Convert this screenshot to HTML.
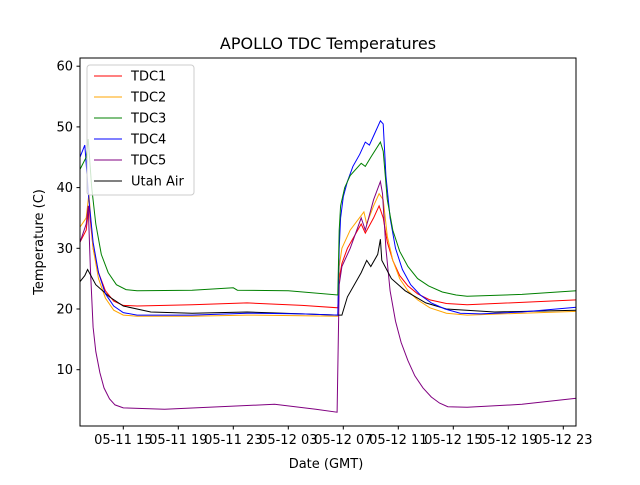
<!DOCTYPE html>
<html><head><meta charset="utf-8"><style>
body{margin:0;background:#fff;}
svg text{font-family:"DejaVu Sans","Liberation Sans",sans-serif;}
</style></head><body>
<svg id="chart" width="640" height="480" xmlns="http://www.w3.org/2000/svg">
<rect width="640" height="480" fill="#fff"/>
<text x="328" y="49" font-size="16" text-anchor="middle">APOLLO TDC Temperatures</text>
<text x="326" y="468" font-size="13" text-anchor="middle">Date (GMT)</text>
<text transform="translate(43,242) rotate(-90)" font-size="13" text-anchor="middle">Temperature (C)</text>
<g id="series"></g>
<g id="axes"></g>
<rect x="80" y="58" width="496" height="368" fill="none" stroke="#000" stroke-width="1"/>
<g id="legend"></g>
</svg>
<script>
// hours since 05-11 00:00
const xTickHours = [15,19,23,27,31,35,39,43,47];
const xTickLabels = ["05-11 15","05-11 19","05-11 23","05-12 03","05-12 07","05-12 11","05-12 15","05-12 19","05-12 23"];
const yTicks = [10,20,30,40,50,60];
const seriesNames = ["TDC1","TDC2","TDC3","TDC4","TDC5","Utah Air"];
const seriesColors = ["red","orange","green","blue","purple","black"];
const tdc1H = [11.85,12.3,12.5,12.8,13.2,13.7,14.3,15,16,20,24,28,30.6,30.7,30.9,31.3,32.3,32.6,33.2,33.6,33.9,34.2,34.6,35.1,35.7,36.4,37.3,38.5,40,47.95];
const tdc1V = [31,33,37,30,26,23,21.3,20.6,20.5,20.7,21,20.6,20.2,25,27.5,30,34,32.5,35,37,35,31,28,25.5,23.8,22.5,21.5,20.9,20.7,21.5];
const tdc2H = [11.85,12.3,12.5,12.8,13.2,13.7,14.3,15,16,20,24,28,30.6,30.7,30.9,31.5,32.5,32.7,33.2,33.6,33.9,34.2,34.6,35.1,35.7,36.4,37.3,38.5,40,47.95];
const tdc2V = [33.5,35,39,30,25,21.8,19.8,19,18.8,18.8,19,18.9,18.8,27,30,33,36,34,37,39,38,32,28,25,23,21.5,20.2,19.3,19,19.6];
const tdc3H = [11.85,12.3,12.45,12.7,13,13.4,13.9,14.5,15.2,16,20,23,23.3,27,30.6,30.7,30.8,31.1,31.5,32.3,32.6,33,33.7,33.9,34.2,34.6,35.1,35.7,36.4,37.2,38.2,39.2,40,44,47.95];
const tdc3V = [43,45,48,40,34,29,26,24,23.2,23,23.1,23.5,23.1,23,22.3,33,37,40,42,44,43.5,45,47.5,46,38,33,29.5,27,25,23.8,22.8,22.3,22.1,22.4,23];
const tdc4H = [11.85,12.2,12.5,12.8,13.2,13.7,14.3,15,16,20,24,28,30.6,30.7,30.8,31,31.3,31.7,32.2,32.6,32.9,33.3,33.7,33.9,34.1,34.4,34.8,35.3,35.9,36.6,37.4,38.4,39.5,41,44,47.95];
const tdc4V = [45,47,38,31,26,22.5,20.5,19.4,19,19,19.3,19.2,19,30,35,38.5,41,43.5,45.5,47.5,47,49,51,50.5,42,35,30,26.5,24,22.3,21,20,19.3,19.2,19.5,20.3];
const tdc5H = [11.85,12.3,12.45,12.6,12.8,13,13.3,13.6,14,14.4,15,18,23,26,29,30.55,30.7,30.9,31.5,32.3,32.6,33.2,33.7,33.85,34.1,34.4,34.8,35.2,35.7,36.2,36.8,37.4,38,38.6,40,44,47.95];
const tdc5V = [31,34,37,27,17,13,9.5,7,5.2,4.2,3.7,3.5,4,4.3,3.5,3,24,27,30,35,33,38,41,39,30,23,18,14.5,11.5,9,7,5.5,4.5,3.9,3.8,4.3,5.3];
const airH = [11.85,12.2,12.4,13,14,15,17,20,24,28,30.6,30.9,31.3,32.3,32.7,33,33.5,33.7,33.8,34.5,35.5,37,38.5,42,47.95];
const airV = [24.5,25.5,26.5,24,22,20.5,19.5,19.3,19.5,19.2,19,19,22,26,28,27,29,31.5,28,25,23,21,20,19.5,19.8];
const seriesH = [tdc1H,tdc2H,tdc3H,tdc4H,tdc5H,airH];
const seriesV = [tdc1V,tdc2V,tdc3V,tdc4V,tdc5V,airV];

const NS="http://www.w3.org/2000/svg";
function xs(h){return 123.3+(h-15)*13.75;}
function ys(v){return 430.4-v*6.07;}
const sg=document.getElementById('series'), ag=document.getElementById('axes'), lg=document.getElementById('legend');
const order=[0,1,4,5,3,2];
order.forEach(i=>{
  const p=document.createElementNS(NS,'polyline');
  p.setAttribute('points',seriesH[i].map((h,k)=>xs(h).toFixed(1)+','+ys(seriesV[i][k]).toFixed(1)).join(' '));
  p.setAttribute('fill','none');p.setAttribute('stroke',seriesColors[i]);p.setAttribute('stroke-width','1');
  
  
  sg.appendChild(p);
});
xTickHours.forEach((h,i)=>{
  const x=xs(h);
  const l=document.createElementNS(NS,'line');
  l.setAttribute('x1',x);l.setAttribute('x2',x);l.setAttribute('y1',426);l.setAttribute('y2',429.5);l.setAttribute('stroke','#000');
  
  
  ag.appendChild(l);
  const t=document.createElementNS(NS,'text');
  t.setAttribute('x',x);t.setAttribute('y',444);t.setAttribute('font-size','13');t.setAttribute('text-anchor','middle');
  t.textContent=xTickLabels[i];
  
  
  ag.appendChild(t);
});
yTicks.forEach(v=>{
  const y=ys(v);
  const l=document.createElementNS(NS,'line');
  l.setAttribute('x1',76.5);l.setAttribute('x2',80);l.setAttribute('y1',y);l.setAttribute('y2',y);l.setAttribute('stroke','#000');
  
  
  ag.appendChild(l);
  const t=document.createElementNS(NS,'text');
  t.setAttribute('x',73);t.setAttribute('y',y+4.5);t.setAttribute('font-size','13');t.setAttribute('text-anchor','end');
  t.textContent=v;
  
  
  ag.appendChild(t);
});
const box=document.createElementNS(NS,'rect');
box.setAttribute('x',87);box.setAttribute('y',65);box.setAttribute('width',107);box.setAttribute('height',130);box.setAttribute('rx',3);
box.setAttribute('fill','#fff');box.setAttribute('fill-opacity','0.8');box.setAttribute('stroke','#ccc');


lg.appendChild(box);
seriesNames.forEach((n,i)=>{
  const y=76+i*21;
  const l=document.createElementNS(NS,'line');
  l.setAttribute('x1',94);l.setAttribute('x2',122);l.setAttribute('y1',y);l.setAttribute('y2',y);l.setAttribute('stroke',seriesColors[i]);
  
  
  lg.appendChild(l);
  const t=document.createElementNS(NS,'text');
  t.setAttribute('x',131);t.setAttribute('y',y+4.5);t.setAttribute('font-size','13');
  t.textContent=n;
  
  
  lg.appendChild(t);
});
</script>
</body></html>
